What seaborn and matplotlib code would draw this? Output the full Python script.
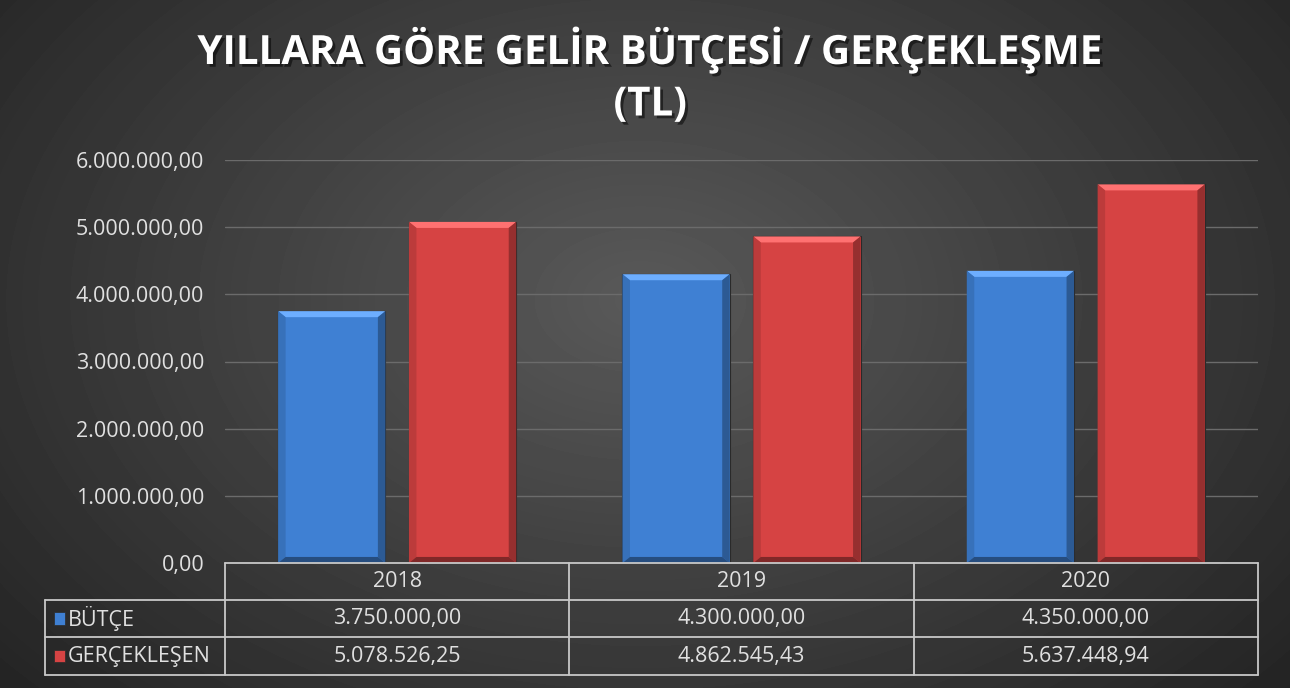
import numpy as np
import pandas as pd
import matplotlib as mpl
import matplotlib.pyplot as plt
import matplotlib.patheffects as pe
from matplotlib.patches import Polygon, Rectangle
import seaborn as sns

years = ["2018", "2019", "2020"]
butce = [3750000.00, 4300000.00, 4350000.00]
gerceklesen = [5078526.25, 4862545.43, 5637448.94]
series_names = ["BÜTÇE", "GERÇEKLEŞEN"]
series_colors = ["#3f80d3", "#d64343"]
yticks = [0, 1000000, 2000000, 3000000, 4000000, 5000000, 6000000]


def tr_fmt(v):
    s = "{:,.2f}".format(v)
    return s.replace(",", "X").replace(".", ",").replace("X", ".")


df = pd.DataFrame({
    "Yıl": years * 2,
    "Tutar": butce + gerceklesen,
    "Seri": [series_names[0]] * 3 + [series_names[1]] * 3,
})

sns.set_style("dark")
plt.rcParams["font.family"] = ["Open Sans", "DejaVu Sans"]

fig = plt.figure(figsize=(12.9, 6.88), dpi=100)

# radial dark background
bg = fig.add_axes([0, 0, 1, 1], zorder=-10)
yy, xx = np.mgrid[0:688, 0:1290]
r = np.sqrt(((xx - 640) / 820.0) ** 2 + ((yy - 300) / 560.0) ** 2)
shade = np.clip(0.35 - 0.2 * r, 0.13, 0.35)
bg.imshow(shade, cmap="gray", vmin=0, vmax=1, aspect="auto", extent=[0, 1, 0, 1])
bg.axis("off")

ax = fig.add_axes([225 / 1290, 1 - 563 / 688, 1033 / 1290, 403 / 688])
ax.set_facecolor("none")
sns.barplot(data=df, x="Yıl", y="Tutar", hue="Seri", palette=series_colors,
            width=0.76, gap=0.18, legend=False, ax=ax, saturation=1,
            edgecolor="#2a2a2a", linewidth=0.8, zorder=3)

# simple bevel look on each bar
for bar in ax.patches:
    x0, y0 = bar.get_x(), bar.get_y()
    w, h = bar.get_width(), bar.get_height()
    fc = np.array(mpl.colors.to_rgb(bar.get_facecolor()))
    light = tuple(np.clip(fc + 0.18, 0, 1))
    dark = tuple(fc * 0.7)
    bx = w * 0.07
    by = 90000
    ax.add_patch(Polygon([(x0, y0 + h), (x0 + w, y0 + h), (x0 + w - bx, y0 + h - by),
                          (x0 + bx, y0 + h - by)], closed=True, fc=light, ec="none", zorder=4))
    ax.add_patch(Polygon([(x0 + w, y0 + h), (x0 + w, y0), (x0 + w - bx, y0 + by),
                          (x0 + w - bx, y0 + h - by)], closed=True, fc=dark, ec="none", zorder=4))
    ax.add_patch(Polygon([(x0, y0 + h), (x0, y0), (x0 + bx, y0 + by),
                          (x0 + bx, y0 + h - by)], closed=True, fc=tuple(fc * 0.88), ec="none", zorder=4))
    ax.add_patch(Polygon([(x0, y0), (x0 + w, y0), (x0 + w - bx, y0 + by),
                          (x0 + bx, y0 + by)], closed=True, fc=tuple(fc * 0.6), ec="none", zorder=4))

ax.set_xlim(-0.5, 2.5)
ax.set_ylim(0, 6000000)
ax.set_yticks(yticks)
ax.set_yticklabels([tr_fmt(v) for v in yticks], color="#e0e0e0", fontsize=15.5)
ax.tick_params(axis="y", length=0, pad=15)
ax.set_xticks([])
ax.set_xlabel("")
ax.set_ylabel("")
ax.grid(axis="y", color="#6b6b6b", linewidth=1, zorder=0)
ax.grid(axis="x", visible=False)
for s in ax.spines.values():
    s.set_visible(False)

# data table under the plot
tr = ax.get_xaxis_transform()
line_kw = dict(color="#c8c8c8", linewidth=1.3, transform=tr, clip_on=False, zorder=5)
row_y = [0, -0.0918, -0.1836, -0.278]
left_x = -1.023
ax.plot([-0.5, 2.5], [row_y[0], row_y[0]], **line_kw)
for yv in row_y[1:]:
    ax.plot([left_x, 2.5], [yv, yv], **line_kw)
for xv in [-0.5, 0.5, 1.5, 2.5]:
    ax.plot([xv, xv], [row_y[0], row_y[3]], **line_kw)
ax.plot([left_x, left_x], [row_y[1], row_y[3]], **line_kw)

txt_kw = dict(transform=tr, clip_on=False, color="#e0e0e0", fontsize=15.5, va="center", zorder=6)
for i, yr in enumerate(years):
    ax.text(i, (row_y[0] + row_y[1]) / 2, yr, ha="center", **txt_kw)
    ax.text(i, (row_y[1] + row_y[2]) / 2, tr_fmt(butce[i]), ha="center", **txt_kw)
    ax.text(i, (row_y[2] + row_y[3]) / 2, tr_fmt(gerceklesen[i]), ha="center", **txt_kw)

for j, (name, col) in enumerate(zip(series_names, series_colors)):
    yc = (row_y[j + 1] + row_y[j + 2]) / 2
    ax.add_patch(Rectangle((left_x + 0.025, yc - 0.015), 0.034, 0.03, transform=tr,
                           clip_on=False, fc=col, ec="#2a2a2a", lw=0.5, zorder=6))
    ax.text(left_x + 0.066, yc, name, ha="left", **txt_kw)

# title
title_fx = [pe.withSimplePatchShadow(offset=(2, -2), shadow_rgbFace="black", alpha=0.5)]
fig.text(0.504, 1 - 50 / 688, "YILLARA GÖRE GELİR BÜTÇESİ / GERÇEKLEŞME", ha="center", va="center",
         fontsize=29, fontweight="bold", color="white", path_effects=title_fx)
fig.text(0.504, 1 - 105 / 688, "(TL)", ha="center", va="center",
         fontsize=29, fontweight="bold", color="white", path_effects=title_fx)

fig.savefig("out.png", dpi=100)
